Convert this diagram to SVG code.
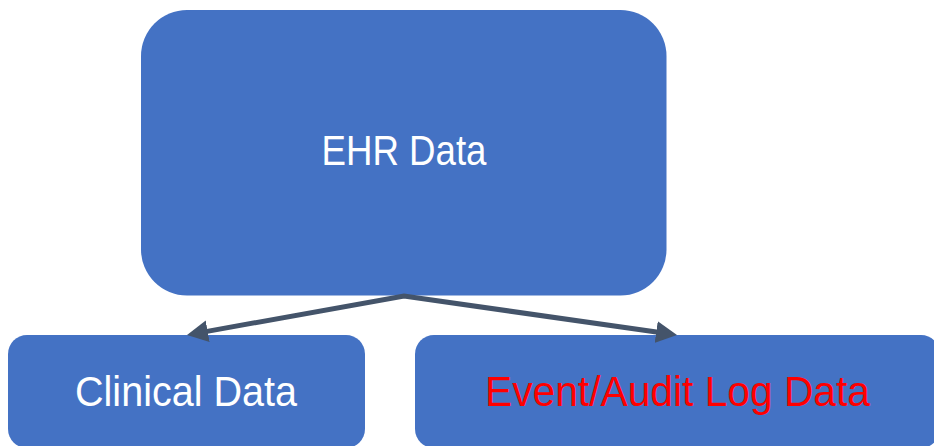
<svg xmlns="http://www.w3.org/2000/svg" width="934" height="446" viewBox="0 0 934 446">
  <style>
    .box { fill: #4472C4; }
    .label { font-family: "Liberation Sans", Arial, sans-serif; font-size: 43px; text-anchor: middle; }
    .white { fill: #FFFFFF; }
    .red { fill: #FF0000; }
    .link { fill: none; stroke: #44546A; stroke-width: 5; stroke-linejoin: miter; }
  </style>
  <defs>
    <marker id="arrow" markerUnits="userSpaceOnUse" markerWidth="22" markerHeight="22" refX="2" refY="11" orient="auto-start-reverse">
      <path d="M0,0 L21,11 L0,22 Z" fill="#44546A"/>
    </marker>
  </defs>

  <rect width="934" height="446" fill="#FFFFFF"/>

  <g id="ehr-data">
    <rect class="box" x="141" y="10" width="525.5" height="285.5" rx="46" ry="46"/>
    <text class="label white" x="404" y="165" textLength="165" lengthAdjust="spacingAndGlyphs">EHR Data</text>
  </g>

  <g id="clinical-data">
    <rect class="box" x="8" y="335" width="357" height="113" rx="19" ry="19"/>
    <text class="label white" x="186" y="406" textLength="222" lengthAdjust="spacingAndGlyphs">Clinical Data</text>
  </g>

  <g id="event-audit-log-data">
    <rect class="box" x="415" y="335" width="525" height="113" rx="19" ry="19"/>
    <text class="label red" x="677.5" y="406" textLength="385" lengthAdjust="spacingAndGlyphs">Event/Audit Log Data</text>
  </g>

  <g id="connectors">
    <path class="link" d="M205.7,331.6 L404,296 L658.2,332.3" marker-start="url(#arrow)" marker-end="url(#arrow)"/>
  </g>
</svg>
